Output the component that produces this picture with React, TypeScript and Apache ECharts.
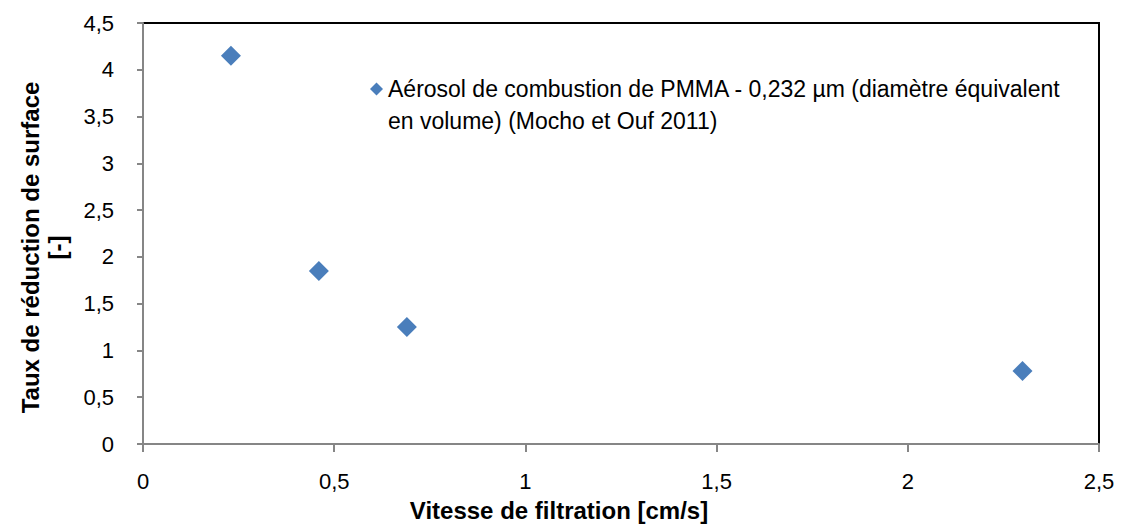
import React, { useEffect, useRef } from "react";
import * as echarts from "echarts";

const seriesName =
  "Aérosol de combustion de PMMA - 0,232 µm (diamètre équivalent en volume) (Mocho et Ouf 2011)";
const legendLines = [
  "Aérosol de combustion de PMMA - 0,232 µm (diamètre équivalent",
  "en volume) (Mocho et Ouf 2011)",
];
const xValues = [0.23, 0.46, 0.69, 2.3];
const yValues = [4.15, 1.85, 1.25, 0.78];
const xTitle = "Vitesse de filtration [cm/s]";
const yTitle = "Taux de réduction de surface\n[-]";

const fmt = (v: number) => String(v).replace(".", ",");

export default function App() {
  const ref = useRef<HTMLDivElement>(null);
  useEffect(() => {
    if (!ref.current) return;
    const chart = echarts.init(ref.current, null, { renderer: "svg" });
    const font = "'Liberation Sans', Arial, sans-serif";
    chart.setOption({
      animation: false,
      backgroundColor: "#ffffff",
      textStyle: { fontFamily: font },
      grid: {
        left: 143,
        top: 23,
        right: 32,
        bottom: 83,
        show: true,
        borderColor: "#000000",
        borderWidth: 2,
      },
      legend: {
        left: 370,
        top: 41,
        padding: 0,
        icon: "diamond",
        itemWidth: 13,
        itemHeight: 13,
        itemGap: 4,
        textStyle: {
          fontFamily: font,
          fontSize: 23,
          color: "#000",
          lineHeight: 32,
        },
        formatter: () => "\n" + legendLines.join("\n"),
        data: [seriesName],
      },
      xAxis: {
        type: "value",
        min: 0,
        max: 2.5,
        interval: 0.5,
        name: xTitle,
        nameLocation: "middle",
        nameGap: 54,
        nameTextStyle: {
          fontFamily: font,
          fontSize: 24,
          fontWeight: "bold",
          color: "#000",
          padding: [0, 124, 0, 0],
        },
        axisLine: { show: true, lineStyle: { color: "#868686", width: 2 } },
        axisTick: { show: true, inside: false, length: 8, lineStyle: { color: "#868686", width: 2 } },
        axisLabel: { fontFamily: font, fontSize: 22, color: "#000", margin: 26, formatter: fmt },
        splitLine: { show: false },
      },
      yAxis: {
        type: "value",
        min: 0,
        max: 4.5,
        interval: 0.5,
        name: yTitle,
        nameLocation: "middle",
        nameGap: 72,
        nameRotate: 90,
        nameTextStyle: {
          fontFamily: font,
          fontSize: 24,
          fontWeight: "bold",
          color: "#000",
          lineHeight: 27,
          padding: [0, 28, 0, 0],
        },
        axisLine: { show: true, lineStyle: { color: "#868686", width: 2 } },
        axisTick: { show: true, inside: false, length: 6, lineStyle: { color: "#868686", width: 2 } },
        axisLabel: { fontFamily: font, fontSize: 22, color: "#000", margin: 29, formatter: fmt },
        splitLine: { show: false },
      },
      series: [
        {
          name: seriesName,
          type: "scatter",
          symbol: "diamond",
          symbolSize: 20,
          itemStyle: { color: "#4a7ebb", opacity: 1 },
          data: xValues.map((x, i) => [x, yValues[i]]),
        },
      ],
    });
    return () => chart.dispose();
  }, []);
  return (
    <div
      ref={ref}
      style={{ position: "fixed", left: 0, top: 0, width: 1131, height: 527 }}
    />
  );
}
